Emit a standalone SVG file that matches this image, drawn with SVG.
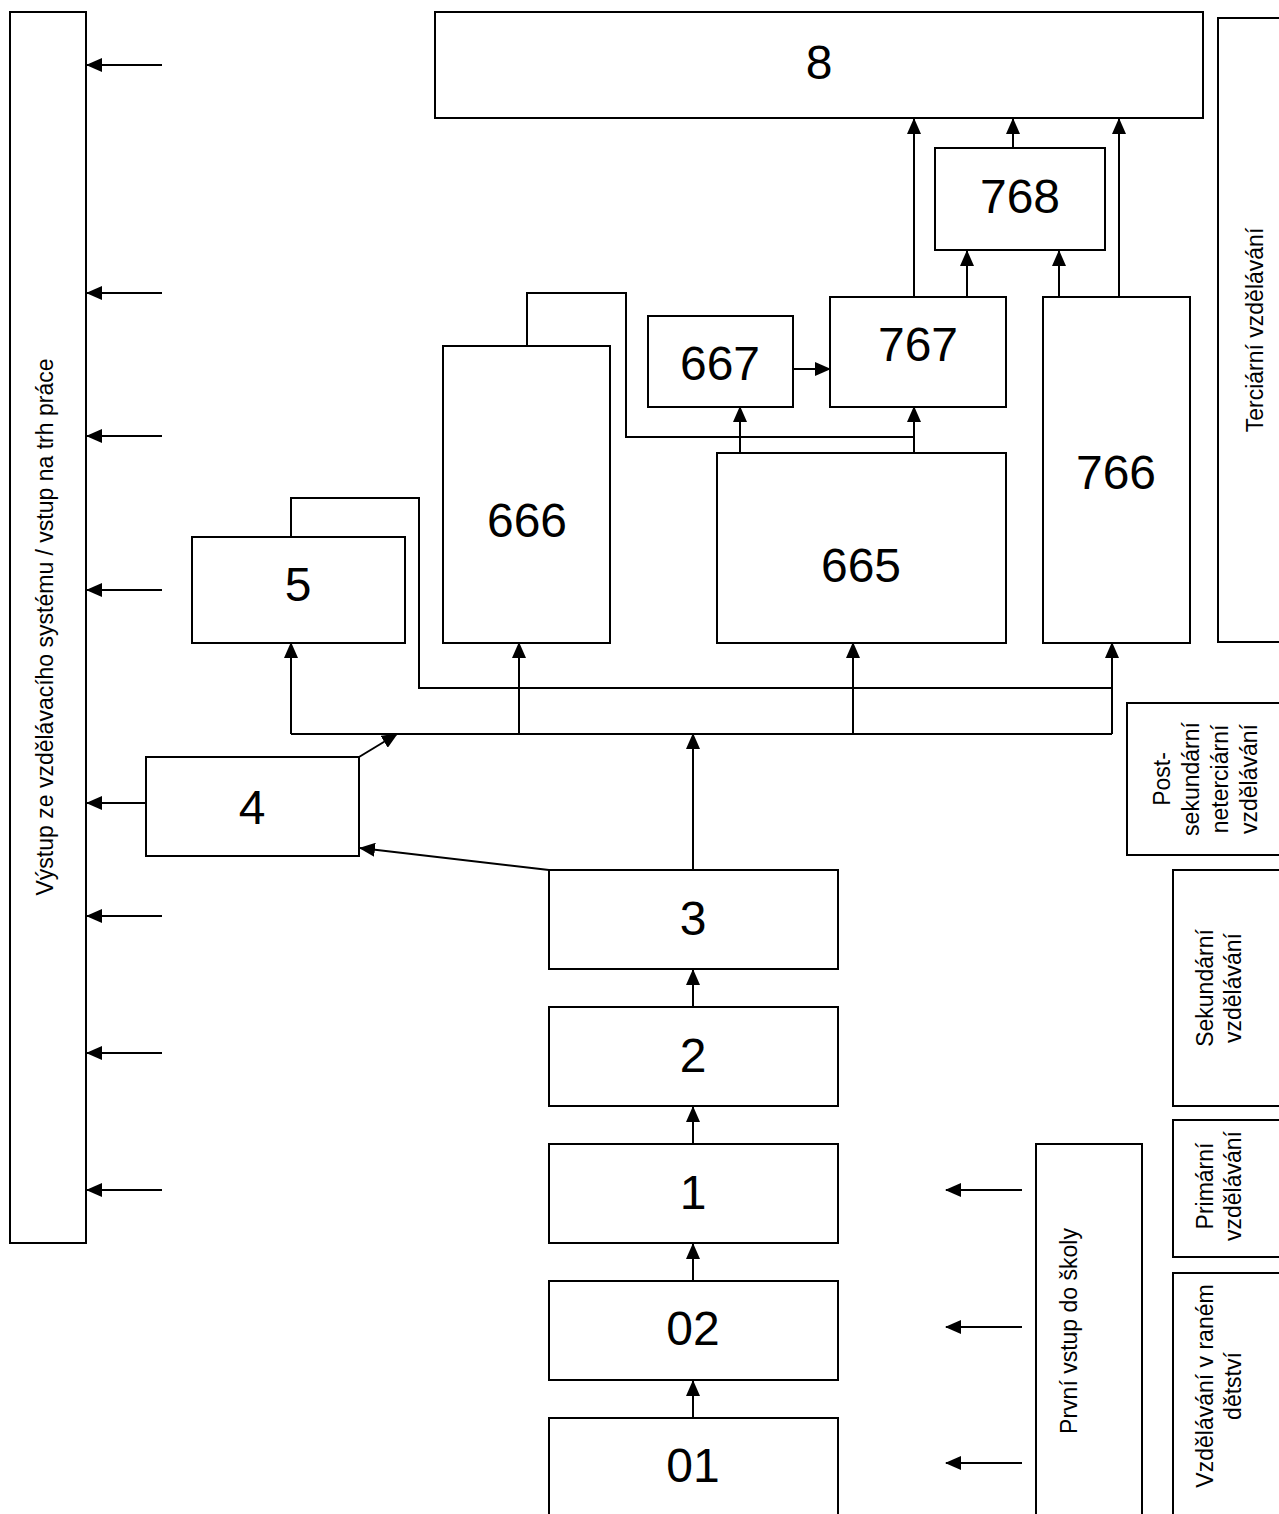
<svg xmlns="http://www.w3.org/2000/svg" width="1279" height="1514" viewBox="0 0 1279 1514">
<defs>
<style>
.box{fill:#fff;stroke:#000;stroke-width:2}
.num{font-family:"Liberation Sans",Arial,sans-serif;font-size:48px;text-anchor:middle;fill:#000}
.lbl{font-family:"Liberation Sans",Arial,sans-serif;font-size:23px;text-anchor:middle;fill:#000}
.ln{fill:none;stroke:#000;stroke-width:2}
.ar{fill:none;stroke:#000;stroke-width:2;marker-end:url(#ah)}
</style>
<marker id="ah" viewBox="0 0 16 14" refX="15" refY="7" markerWidth="16" markerHeight="14" markerUnits="userSpaceOnUse" orient="auto">
<path d="M0,0 L16,7 L0,14 z" fill="#000"/>
</marker>
</defs>
<rect width="1279" height="1514" fill="#fff"/>

<g id="connectors">
<!-- left outputs -->
<line class="ar" x1="162" y1="65" x2="87" y2="65"/>
<line class="ar" x1="162" y1="293" x2="87" y2="293"/>
<line class="ar" x1="162" y1="436" x2="87" y2="436"/>
<line class="ar" x1="162" y1="590" x2="87" y2="590"/>
<line class="ar" x1="146" y1="803" x2="87" y2="803"/>
<line class="ar" x1="162" y1="916" x2="87" y2="916"/>
<line class="ar" x1="162" y1="1053" x2="87" y2="1053"/>
<line class="ar" x1="162" y1="1190" x2="87" y2="1190"/>
<!-- right entries -->
<line class="ar" x1="1022" y1="1190" x2="946" y2="1190"/>
<line class="ar" x1="1022" y1="1327" x2="946" y2="1327"/>
<line class="ar" x1="1022" y1="1463" x2="946" y2="1463"/>
<!-- vertical chain -->
<line class="ar" x1="693" y1="1418" x2="693" y2="1381"/>
<line class="ar" x1="693" y1="1281" x2="693" y2="1244"/>
<line class="ar" x1="693" y1="1144" x2="693" y2="1107"/>
<line class="ar" x1="693" y1="1007" x2="693" y2="970"/>
<line class="ar" x1="693" y1="870" x2="693" y2="734"/>
<!-- 3 to 4, 4 to bus -->
<line class="ar" x1="549" y1="870" x2="360" y2="848"/>
<line class="ar" x1="359" y1="757" x2="397" y2="734"/>
<!-- bus -->
<line class="ln" x1="291" y1="734" x2="1112" y2="734"/>
<line class="ar" x1="291" y1="734" x2="291" y2="643"/>
<line class="ar" x1="519" y1="734" x2="519" y2="643"/>
<line class="ar" x1="853" y1="734" x2="853" y2="643"/>
<line class="ar" x1="1112" y1="734" x2="1112" y2="643"/>
<!-- 5 loop -->
<polyline class="ln" points="291,537 291,498 419,498 419,688 1112,688"/>
<!-- 666 loop -->
<polyline class="ln" points="527,346 527,293 626,293 626,437 914,437"/>
<!-- 665 to 667 / 767 -->
<line class="ar" x1="740" y1="452" x2="740" y2="407"/>
<line class="ar" x1="914" y1="452" x2="914" y2="407"/>
<!-- 667 to 767 -->
<line class="ar" x1="793" y1="369" x2="830" y2="369"/>
<!-- to 768 -->
<line class="ar" x1="967" y1="297" x2="967" y2="251"/>
<line class="ar" x1="1059" y1="297" x2="1059" y2="251"/>
<!-- to 8 -->
<line class="ar" x1="914" y1="297" x2="914" y2="119"/>
<line class="ar" x1="1013" y1="148" x2="1013" y2="119"/>
<line class="ar" x1="1119" y1="297" x2="1119" y2="119"/>
</g>

<g id="left-exit">
<rect class="box" x="10" y="12" width="76" height="1231"/>
<text class="lbl" transform="translate(45,627) rotate(-90)" x="0" y="8">Výstup ze vzdělávacího systému / vstup na trh práce</text>
</g>

<g id="n8"><rect class="box" x="435" y="12" width="768" height="106"/><text class="num" x="819" y="79">8</text></g>
<g id="n768"><rect class="box" x="935" y="148" width="170" height="102"/><text class="num" x="1020" y="213">768</text></g>
<g id="n767"><rect class="box" x="830" y="297" width="176" height="110"/><text class="num" x="918" y="361">767</text></g>
<g id="n667"><rect class="box" x="648" y="316" width="145" height="91"/><text class="num" x="720" y="380">667</text></g>
<g id="n666"><rect class="box" x="443" y="346" width="167" height="297"/><text class="num" x="527" y="537">666</text></g>
<g id="n665"><rect class="box" x="717" y="453" width="289" height="190"/><text class="num" x="861" y="582">665</text></g>
<g id="n766"><rect class="box" x="1043" y="297" width="147" height="346"/><text class="num" x="1116" y="489">766</text></g>
<g id="n5"><rect class="box" x="192" y="537" width="213" height="106"/><text class="num" x="298" y="601">5</text></g>
<g id="n4"><rect class="box" x="146" y="757" width="213" height="99"/><text class="num" x="252" y="824">4</text></g>
<g id="n3"><rect class="box" x="549" y="870" width="289" height="99"/><text class="num" x="693" y="935">3</text></g>
<g id="n2"><rect class="box" x="549" y="1007" width="289" height="99"/><text class="num" x="693" y="1072">2</text></g>
<g id="n1"><rect class="box" x="549" y="1144" width="289" height="99"/><text class="num" x="693" y="1209">1</text></g>
<g id="n02"><rect class="box" x="549" y="1281" width="289" height="99"/><text class="num" x="693" y="1345">02</text></g>
<g id="n01"><rect class="box" x="549" y="1418" width="289" height="120"/><text class="num" x="693" y="1482">01</text></g>

<g id="terciarni">
<rect class="box" x="1218" y="18" width="80" height="624"/>
<text class="lbl" transform="translate(1255,330) rotate(-90)" x="0" y="8">Terciární vzdělávání</text>
</g>
<g id="postsekundarni">
<rect class="box" x="1127" y="703" width="170" height="152"/>
<text class="lbl" transform="translate(1200,779) rotate(-90)"><tspan x="0" y="-30">Post-</tspan><tspan x="0" y="-1">sekundární</tspan><tspan x="0" y="28">neterciární</tspan><tspan x="0" y="57">vzdělávání</tspan></text>
</g>
<g id="sekundarni">
<rect class="box" x="1173" y="870" width="120" height="236"/>
<text class="lbl" transform="translate(1220,988) rotate(-90)"><tspan x="0" y="-7">Sekundární</tspan><tspan x="0" y="21">vzdělávání</tspan></text>
</g>
<g id="primarni">
<rect class="box" x="1173" y="1120" width="120" height="137"/>
<text class="lbl" transform="translate(1220,1186) rotate(-90)"><tspan x="0" y="-7">Primární</tspan><tspan x="0" y="21">vzdělávání</tspan></text>
</g>
<g id="rane-detstvi">
<rect class="box" x="1173" y="1273" width="120" height="260"/>
<text class="lbl" transform="translate(1220,1386) rotate(-90)"><tspan x="0" y="-7">Vzdělávání v raném</tspan><tspan x="0" y="21">dětství</tspan></text>
</g>
<g id="prvni-vstup">
<rect class="box" x="1036" y="1144" width="106" height="390"/>
<text class="lbl" transform="translate(1069,1331) rotate(-90)" x="0" y="8">První vstup do školy</text>
</g>
</svg>
